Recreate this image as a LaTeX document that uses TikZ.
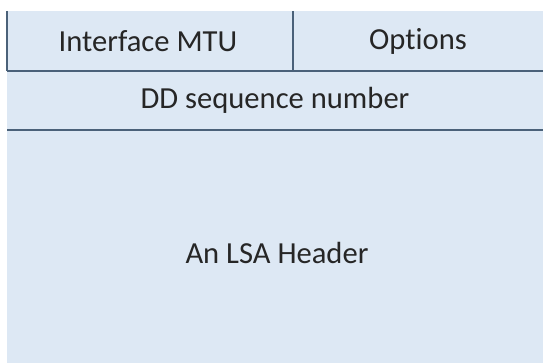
\documentclass[tikz,border=0pt]{standalone}
\usepackage{fontspec}
\setmainfont[Ligatures=NoCommon]{Carlito}
\definecolor{cellfill}{HTML}{DDE8F4}
\definecolor{rule}{HTML}{4A6179}
\definecolor{txt}{HTML}{262626}
\begin{document}
\begin{tikzpicture}[x=1pt,y=-1pt,
  lbl/.style={text=txt,font=\fontsize{30.6}{36}\selectfont,inner sep=0pt},
  rl/.style={draw=rule,line width=2pt}]
\useasboundingbox (0,0) rectangle (543,363);
\fill[cellfill] (7,11) rectangle (543,363);
\coordinate (tl) at (7,11);
\coordinate (mt) at (293,11);
\coordinate (mb) at (293,71);
\coordinate (l1) at (7,71);
\coordinate (r1) at (543,71);
\coordinate (l2) at (7,130);
\coordinate (r2) at (543,130);
\draw[rl] (tl) -- (l1);
\draw[rl] (mt) -- (mb);
\draw[rl] (l1) -- (r1);
\draw[rl] (l2) -- (r2);
\node[lbl] (mtu) at (148,41) {Interface MTU};
\node[lbl] (opt) at (418,41) {Options};
\node[lbl] (dd) at (275,100) {DD sequence number};
\node[lbl] (lsa) at (277,253) {An LSA Header};
\end{tikzpicture}
\end{document}
